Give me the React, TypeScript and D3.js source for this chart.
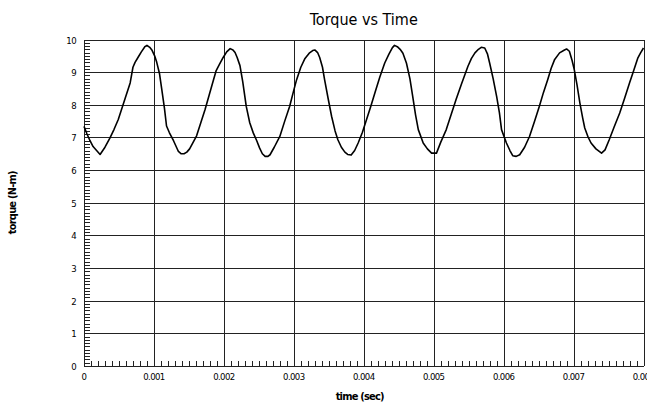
import React from "react";
import * as d3 from "d3";

const timeMs: number[] = [
  0.0, 0.04, 0.086, 0.13, 0.18, 0.23, 0.3, 0.37, 0.43, 0.49, 0.54, 0.59, 0.66, 0.7, 0.73, 0.78, 0.82, 0.87, 0.9, 0.94,
  0.97, 1.01, 1.04, 1.08, 1.11, 1.15, 1.18, 1.22, 1.28, 1.35, 1.39, 1.43, 1.47, 1.51, 1.56, 1.61, 1.67, 1.73, 1.79, 1.85,
  1.89, 1.94, 1.99, 2.04, 2.09, 2.13, 2.16, 2.19, 2.23, 2.27, 2.32, 2.37, 2.42, 2.47, 2.51, 2.55, 2.59, 2.63, 2.66, 2.72,
  2.8, 2.87, 2.94, 3.0, 3.04, 3.1, 3.16, 3.22, 3.27, 3.3, 3.34, 3.37, 3.41, 3.44, 3.49, 3.54, 3.59, 3.63, 3.68, 3.73,
  3.77, 3.82, 3.87, 3.92, 3.98, 4.04, 4.1, 4.16, 4.23, 4.3, 4.36, 4.41, 4.44, 4.48, 4.52, 4.56, 4.61, 4.66, 4.7, 4.74,
  4.78, 4.85, 4.91, 4.97, 5.04, 5.1, 5.18, 5.25, 5.32, 5.4, 5.49, 5.54, 5.59, 5.64, 5.68, 5.73, 5.77, 5.8, 5.85, 5.9,
  5.94, 5.97, 6.04, 6.09, 6.13, 6.18, 6.23, 6.3, 6.37, 6.44, 6.51, 6.57, 6.63, 6.68, 6.73, 6.8, 6.87, 6.9, 6.94, 6.98,
  7.01, 7.05, 7.09, 7.13, 7.16, 7.21, 7.25, 7.32, 7.4, 7.45, 7.51, 7.58, 7.66, 7.73, 7.8, 7.86, 7.92, 7.96, 8.0,
];

const torque: number[] = [
  7.34, 7.12, 6.9, 6.72, 6.6, 6.48, 6.7, 6.98, 7.25, 7.55, 7.88, 8.21, 8.67, 9.15, 9.3, 9.48, 9.62, 9.78, 9.82, 9.76,
  9.68, 9.5, 9.3, 8.95, 8.5, 7.9, 7.35, 7.15, 6.9, 6.57, 6.5, 6.5, 6.55, 6.65, 6.85, 7.05, 7.45, 7.85, 8.3, 8.75,
  9.05, 9.25, 9.45, 9.62, 9.72, 9.68, 9.6, 9.45, 9.2, 8.7, 7.95, 7.45, 7.14, 6.9, 6.68, 6.5, 6.42, 6.42, 6.47, 6.7,
  7.03, 7.5, 7.95, 8.45, 8.77, 9.15, 9.42, 9.58, 9.66, 9.68, 9.6, 9.45, 9.15, 8.77, 8.2, 7.65, 7.2, 6.93, 6.7, 6.55,
  6.48, 6.46, 6.6, 6.83, 7.15, 7.55, 7.95, 8.37, 8.85, 9.28, 9.55, 9.75, 9.82, 9.78, 9.7, 9.58, 9.28, 8.8, 8.26, 7.7,
  7.24, 6.83, 6.65, 6.52, 6.52, 6.85, 7.24, 7.7, 8.16, 8.65, 9.18, 9.42, 9.59, 9.7, 9.76, 9.74, 9.55, 9.28, 8.8, 8.26,
  7.75, 7.24, 6.83, 6.6, 6.44, 6.42, 6.47, 6.7, 7.03, 7.48, 7.95, 8.38, 8.77, 9.12, 9.39, 9.59, 9.68, 9.71, 9.64, 9.35,
  9.08, 8.6, 8.06, 7.6, 7.29, 7.0, 6.83, 6.65, 6.52, 6.62, 6.93, 7.32, 7.75, 8.2, 8.67, 9.05, 9.44, 9.6, 9.74,
];

const xTickValues: number[] = [0, 0.001, 0.002, 0.003, 0.004, 0.005, 0.006, 0.007, 0.008];
const xTickLabels: string[] = ["0", "0.001", "0.002", "0.003", "0.004", "0.005", "0.006", "0.007", "0.008"];
const yTickValues: number[] = [0, 1, 2, 3, 4, 5, 6, 7, 8, 9, 10];

const title = "Torque vs Time";
const xLabel = "time (sec)";
const yLabel = "torque (N-m)";

const W = 647;
const H = 406;
const M = { left: 84, right: 3.5, top: 39.5, bottom: 40 };

export default function App() {
  const x = d3.scaleLinear().domain([0, 0.008]).range([M.left, W - M.right]);
  const y = d3.scaleLinear().domain([0, 10]).range([H - M.bottom, M.top]);

  const pts: [number, number][] = timeMs.map((t, i) => [t / 1000, torque[i]]);
  const line = d3
    .line<[number, number]>()
    .x((d) => x(d[0]))
    .y((d) => y(d[1]))
    .curve(d3.curveLinear);

  const xMinor = d3.range(0, 81).map((i) => i / 10000);
  const yMinor = d3.range(0, 101).map((i) => i / 10);

  const font = "'DejaVu Sans Condensed', 'DejaVu Sans', sans-serif";
  const x0 = x(0);
  const y0 = y(0);

  return (
    <svg
      width={W}
      height={H}
      style={{ position: "absolute", left: 0, top: 0, background: "#fff" }}
    >
      <rect x={0} y={0} width={W} height={H} fill="#fff" />
      <g shapeRendering="crispEdges" stroke="#222" strokeWidth={1}>
        {yTickValues.map((v) => (
          <line key={"gy" + v} x1={x0} x2={x(0.008)} y1={Math.round(y(v)) + 0.5} y2={Math.round(y(v)) + 0.5} />
        ))}
        {xTickValues.map((v) => (
          <line key={"gx" + v} y1={y(10)} y2={y0} x1={Math.round(x(v)) + 0.5} x2={Math.round(x(v)) + 0.5} />
        ))}
        {xMinor.map((v, i) => (
          <line key={"mx" + i} y1={y0} y2={y0 - 5} x1={Math.round(x(v)) + 0.5} x2={Math.round(x(v)) + 0.5} />
        ))}
        {yMinor.map((v, i) => (
          <line key={"my" + i} x1={x0} x2={x0 + 6} y1={Math.round(y(v)) + 0.5} y2={Math.round(y(v)) + 0.5} />
        ))}
      </g>
      <path d={line(pts) || ""} fill="none" stroke="#000" strokeWidth={1.6} strokeLinejoin="round" />
      <g fontFamily={font} fontSize={9.5} fill="#000" letterSpacing={-0.6}>
        {yTickValues.map((v) => (
          <text key={"ly" + v} x={x0 - 8} y={y(v) + 4} textAnchor="end">
            {String(v)}
          </text>
        ))}
        {xTickValues.map((v, i) => (
          <text key={"lx" + i} x={x(v)} y={y0 + 14} textAnchor="middle">
            {xTickLabels[i]}
          </text>
        ))}
      </g>
      <text x={(x0 + x(0.008)) / 2} y={25} textAnchor="middle" fontFamily={font} fontSize={16} fill="#000">
        {title}
      </text>
      <text x={(x0 + x(0.008)) / 2 - 4} y={400} textAnchor="middle" fontFamily={font} fontSize={11} fontWeight="bold" letterSpacing={-0.8} fill="#000">
        {xLabel}
      </text>
      <text
        transform={`translate(16, ${(y(10) + y0) / 2}) rotate(-90)`}
        textAnchor="middle"
        fontFamily={font}
        fontSize={11}
        fontWeight="bold"
        letterSpacing={-0.8}
        fill="#000"
      >
        {yLabel}
      </text>
    </svg>
  );
}
